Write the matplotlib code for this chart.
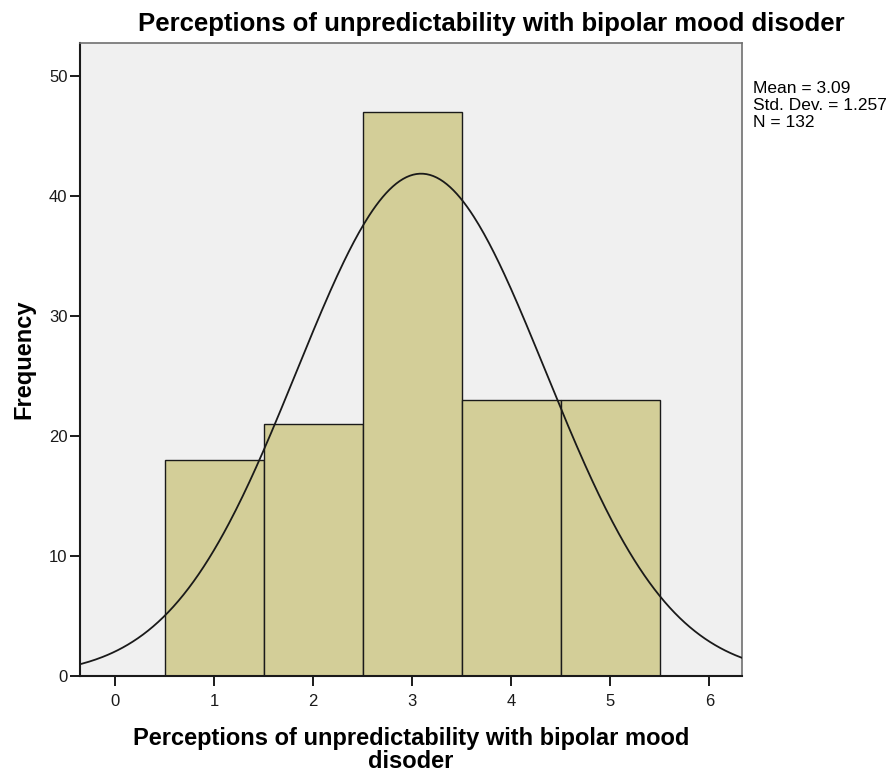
import numpy as np
import matplotlib
matplotlib.use("Agg")
import matplotlib.pyplot as plt

plt.rcParams['font.family'] = ['Liberation Sans', 'DejaVu Sans']

# histogram bins (centres) and counts
bin_centres = [1, 2, 3, 4, 5]
counts = [18, 21, 47, 23, 23]

mean = 3.09
sd = 1.257
n = 132

fig = plt.figure(figsize=(8.91, 7.73), dpi=100)
ax = fig.add_axes([0.0898, 0.1255, 0.743, 0.819])
ax.set_facecolor('#f0f0f0')

ax.bar(bin_centres, counts, width=1.0, color='#d3ce98', edgecolor='#1a1a1a',
       linewidth=1.0, zorder=2)

# normal curve scaled to counts (bin width 1)
xs = np.linspace(-0.4, 6.4, 400)
ys = n / (sd * np.sqrt(2 * np.pi)) * np.exp(-0.5 * ((xs - mean) / sd) ** 2)
ax.plot(xs, ys, color='#1a1a1a', linewidth=1.3, zorder=3)

ax.set_xlim(-0.354, 6.33)
ax.set_ylim(0, 52.8)
ax.set_xticks(range(0, 7))
ax.set_yticks(range(0, 51, 10))
ax.tick_params(axis='both', direction='out', length=7, width=1.4,
               labelsize=12, colors='#1a1a1a', pad=2)
ax.tick_params(axis='x', length=7, pad=6)
for s in ['left', 'bottom']:
    ax.spines[s].set_color('#1a1a1a')
    ax.spines[s].set_linewidth(1.5)
for s in ['top', 'right']:
    ax.spines[s].set_color('#707070')
    ax.spines[s].set_linewidth(1.2)

ax.set_xlabel('Perceptions of unpredictability with bipolar mood\ndisoder',
              fontsize=17, fontweight='bold', linespacing=0.97)
ax.xaxis.set_label_coords(0.5, -0.081)
ax.set_ylabel('Frequency', fontsize=17, fontweight='bold')
ax.yaxis.set_label_coords(-0.068, 0.5)

fig.text(491 / 891, 1 - 24 / 773,
         'Perceptions of unpredictability with bipolar mood disoder',
         ha='center', va='center', fontsize=18.5, fontweight='bold')

fig.text(753 / 891, 1 - 81 / 773,
         'Mean = %.2f\nStd. Dev. = %.3f\nN = %d' % (mean, sd, n),
         ha='left', va='top', fontsize=12.5, linespacing=1.15)

plt.savefig('out.png', dpi=100)
